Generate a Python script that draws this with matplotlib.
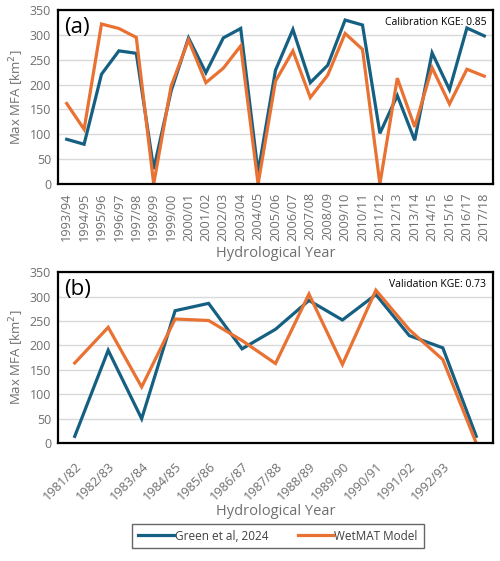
import matplotlib.pyplot as plt
import numpy as np

plt.rcParams['font.family'] = ['Open Sans', 'DejaVu Sans']

# Calibration period (panel a)
years_cal = ['1993/94', '1994/95', '1995/96', '1996/97', '1997/98', '1998/99', '1999/00',
             '2000/01', '2001/02', '2002/03', '2003/04', '2004/05', '2005/06', '2006/07',
             '2007/08', '2008/09', '2009/10', '2010/11', '2011/12', '2012/13', '2013/14',
             '2014/15', '2015/16', '2016/17', '2017/18']
green_cal = [90, 80, 221, 268, 263, 30, 187, 294, 224, 294, 313, 23, 229, 311, 204, 239,
             330, 320, 102, 178, 88, 264, 190, 314, 298]
wetmat_cal = [162, 110, 322, 313, 295, 0, 197, 290, 204, 233, 278, 0, 207, 268, 174, 219,
              303, 271, 0, 213, 115, 234, 161, 231, 217]

# Validation period (panel b), last point has no label
years_val = ['1981/82', '1982/83', '1983/84', '1984/85', '1985/86', '1986/87', '1987/88',
             '1988/89', '1989/90', '1990/91', '1991/92', '1992/93', '']
green_val = [14, 190, 50, 271, 286, 193, 233, 292, 252, 304, 220, 195, 14]
wetmat_val = [164, 237, 115, 254, 251, 210, 163, 305, 161, 313, 232, 171, 0]

BLUE = '#156082'
ORANGE = '#E97132'
GREY = '#6f6f6f'


def panel(ax, labels, green, wetmat, tag, kge, rot):
    x = np.arange(len(labels))
    ax.plot(x, green, color=BLUE, lw=2.3, label='Green et al, 2024', solid_joinstyle='miter')
    ax.plot(x, wetmat, color=ORANGE, lw=2.3, label='WetMAT Model', solid_joinstyle='miter')
    ax.set_xlim(-0.5, len(labels) - 0.5)
    ax.set_ylim(0, 350)
    ax.set_yticks(np.arange(0, 351, 50))
    ax.set_xticks(x)
    if rot == 90:
        ax.set_xticklabels(labels, rotation=90, fontsize=9.2, color=GREY)
        ax.tick_params(axis='x', pad=6)
    else:
        ax.set_xticklabels(labels, rotation=45, ha='right', rotation_mode='anchor',
                           fontsize=9.2, color=GREY)
        ax.tick_params(axis='x', pad=12)
    ax.tick_params(axis='y', labelsize=9, labelcolor=GREY, pad=5)
    ax.tick_params(length=0)
    ax.grid(axis='y', color='#d9d9d9', lw=1)
    ax.set_axisbelow(True)
    for s in ax.spines.values():
        s.set_linewidth(1.6)
        s.set_color('black')
    ax.set_ylabel('Max MFA [km$^2$]', color=GREY, fontsize=9.5, labelpad=3)
    ax.set_xlabel('Hydrological Year', color=GREY, fontsize=10.5, va='center')
    ax.text(0.015, 0.96, tag, transform=ax.transAxes, fontsize=16, va='top', ha='left')
    ax.text(0.985, 0.96, kge, transform=ax.transAxes, fontsize=7.5, va='top', ha='right')


fig = plt.figure(figsize=(5, 5.61), dpi=100)
ax1 = fig.add_axes([0.116, 0.672, 0.870, 0.310])
ax2 = fig.add_axes([0.116, 0.210, 0.870, 0.305])

panel(ax1, years_cal, green_cal, wetmat_cal, '(a)', 'Calibration KGE: 0.85', 90)
panel(ax2, years_val, green_val, wetmat_val, '(b)', 'Validation KGE: 0.73', 45)
ax1.xaxis.set_label_coords(0.5, -0.397)
ax2.xaxis.set_label_coords(0.5, -0.40)

handles, labels = ax2.get_legend_handles_labels()
leg = fig.legend(handles, labels, loc='center', bbox_to_anchor=(0.556, 0.0445), ncol=2,
                 fontsize=8.5, frameon=True, fancybox=False, handlelength=3,
                 handletextpad=0.1, columnspacing=2.5, borderpad=0.5)
leg.get_frame().set_edgecolor('#404040')
leg.get_frame().set_linewidth(1.0)
for t in leg.get_texts():
    t.set_color('#404040')

fig.savefig('out.png', dpi=100)
